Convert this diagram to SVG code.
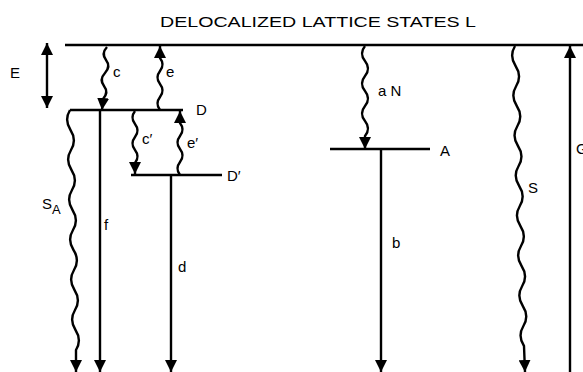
<svg xmlns="http://www.w3.org/2000/svg" width="583" height="372" viewBox="0 0 583 372">
<style>
.ln{fill:none;stroke:#000;stroke-width:2.4;stroke-linecap:butt}
.lv{fill:none;stroke:#000;stroke-width:2.6}
.wv{fill:none;stroke:#000;stroke-width:2.4;stroke-linejoin:round}
text{font-family:"Liberation Sans",Arial,sans-serif;fill:#000;font-size:15px}
</style>
<defs>
<marker id="ah" viewBox="0 0 10 10" refX="10" refY="5" markerWidth="12" markerHeight="12" markerUnits="userSpaceOnUse" orient="auto">
<path d="M0,0 L10,5 L0,10 z" fill="#000"/>
</marker>
<marker id="ahs" viewBox="0 0 10 10" refX="10" refY="5" markerWidth="12" markerHeight="12" markerUnits="userSpaceOnUse" orient="auto-start-reverse">
<path d="M0,0 L10,5 L0,10 z" fill="#000"/>
</marker>
</defs>
<rect width="583" height="372" fill="#fff"/>
<text x="160" y="27" font-size="16" textLength="316" lengthAdjust="spacingAndGlyphs">DELOCALIZED LATTICE STATES L</text>
<g id="levels">
<path id="L" class="lv" d="M65,45 H583"/>
<path id="D" class="lv" d="M70,110 H183"/>
<path id="Dp" class="lv" d="M131,175 H222"/>
<path id="A" class="lv" d="M330,149 H430"/>
</g>
<g id="connectors">
<path id="E-arrow" class="ln" d="M47,43 L47,108" marker-start="url(#ahs)" marker-end="url(#ahs)"/>
<path id="c" class="wv" d="M107,47 q-6,6.5 -1,13 t-1,13 t-1,13 t-1,13 L102,110" marker-end="url(#ah)"/>
<path id="e" class="wv" d="M160,110 q-5,-6.5 0,-13 t0,-13 t0,-13 t0,-13 L160,46" marker-end="url(#ah)"/>
<path id="cp" class="wv" d="M135,111 q-5,6.5 0,13 t0,13 t0,13 t0,13 L135,174" marker-end="url(#ah)"/>
<path id="ep" class="wv" d="M180,175 q-5,-6.5 0,-13 t0,-13 t0,-13 t0,-13 L180,111" marker-end="url(#ah)"/>
<path id="aN" class="wv" d="M365,46 q-6,7.5 0,15 t0,15 t0,15 t0,15 t0,15 t0,15 L365,149" marker-end="url(#ah)"/>
<path id="SA" class="wv" d="M70,110 q-6,10 0.5,20 t0.5,20 t0.5,20 t0.5,20 t0.5,20 t0.5,20 t0.5,20 t0.5,20 t0.5,20 t0.5,20 t0.5,20 t0.5,20 L76,372" marker-end="url(#ah)"/>
<path id="f" class="ln" d="M100,110 L100,372" marker-end="url(#ah)"/>
<path id="d" class="ln" d="M171,175 L171,372" marker-end="url(#ah)"/>
<path id="b" class="ln" d="M381,149 L381,372" marker-end="url(#ah)"/>
<path id="S" class="wv" d="M515,46 q-6,10 0.6,20 t0.6,20 t0.6,20 t0.6,20 t0.6,20 t0.6,20 t0.6,20 t0.6,20 t0.6,20 t0.6,20 t0.6,20 t0.6,20 t0.6,20 t0.6,20 t0.6,20 L525,372" marker-end="url(#ah)"/>
<path id="G" class="ln" d="M570,372 L570,46" marker-end="url(#ah)"/>
</g>
<g id="labels">
<text x="10" y="78">E</text>
<text x="113" y="77">c</text>
<text x="166" y="77">e</text>
<text x="196" y="115">D</text>
<text x="142" y="144">c′</text>
<text x="187" y="148">e′</text>
<text x="227" y="181">D′</text>
<text x="42" y="209">S<tspan font-size="13" dy="5">A</tspan></text>
<text x="104" y="230">f</text>
<text x="178" y="272">d</text>
<text x="378" y="96">a N</text>
<text x="440" y="156">A</text>
<text x="392" y="248">b</text>
<text x="528" y="193">S</text>
<text x="576" y="154">G</text>
</g>
</svg>
